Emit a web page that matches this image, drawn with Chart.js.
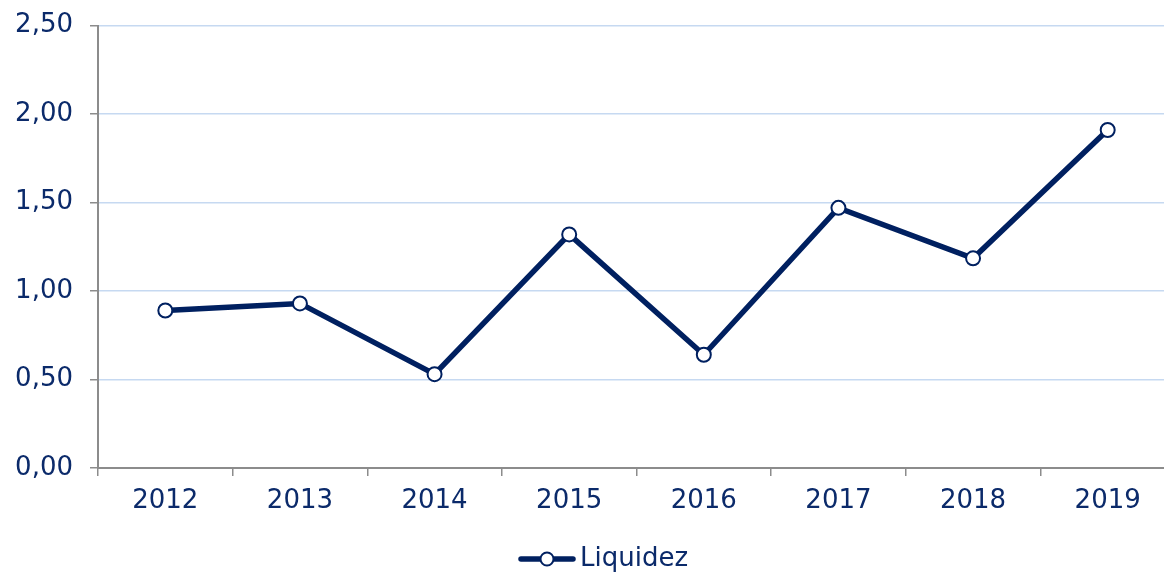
<!DOCTYPE html>
<html><head><meta charset="utf-8">
<script src="https://cdn.jsdelivr.net/npm/chart.js@4.4.1/dist/chart.umd.min.js"></script>
<style>
html,body{margin:0;padding:0;overflow:hidden;background:#fff;width:1164px;height:572px;position:relative;}
#wrap{position:absolute;left:0;top:-7px;width:1184px;height:589px;}
</style></head>
<body>
<div id="wrap"><canvas id="c" width="1184" height="589"></canvas></div>
<script>
const categories = ['2012','2013','2014','2015','2016','2017','2018','2019'];
const liquidez = [0.89, 0.93, 0.53, 1.32, 0.64, 1.47, 1.185, 1.91];
const seriesName = 'Liquidez';
const yTicks = [0, 0.5, 1, 1.5, 2, 2.5];

const NAVY = '#002060';
const TEXT = '#0b2a6a';
const GRID = '#c6d9f1';
const AXIS = '#8c8c8c';
const FONT = {family: '"DejaVu Sans", Verdana, sans-serif', size: 26};

// legend symbol: line with open circle (transparent margin on left shifts it right)
const sym = document.createElement('canvas');
sym.width = 90; sym.height = 18;
(function(){
  const g = sym.getContext('2d');
  const o = 32;
  g.strokeStyle = NAVY; g.lineWidth = 5.5; g.lineCap = 'round';
  g.beginPath(); g.moveTo(o + 3, 9); g.lineTo(o + 55, 9); g.stroke();
  g.beginPath(); g.arc(o + 29, 9, 6.5, 0, Math.PI*2);
  g.fillStyle = '#fff'; g.fill(); g.lineWidth = 2; g.stroke();
})();

new Chart(document.getElementById('c'), {
  type: 'line',
  data: {
    labels: categories,
    datasets: [{
      label: seriesName,
      data: liquidez,
      borderColor: NAVY,
      borderWidth: 5.5,
      pointRadius: 7,
      pointHoverRadius: 7,
      pointBackgroundColor: '#fff',
      pointBorderColor: NAVY,
      pointBorderWidth: 2,
      tension: 0,
      pointStyle: 'circle'
    }]
  },
  options: {
    responsive: false,
    animation: false,
    layout: {padding: {left: 0, right: 1, top: 18, bottom: 0}},
    plugins: {
      tooltip: {enabled: false},
      legend: {
        position: 'bottom',
        labels: {
          color: TEXT,
          font: FONT,
          usePointStyle: true,
          pointStyleWidth: 72,
          padding: 10,
          generateLabels: (chart) => [{
            text: seriesName, pointStyle: sym, fontColor: TEXT,
            fillStyle: NAVY, strokeStyle: NAVY, lineWidth: 0, datasetIndex: 0, hidden: false
          }]
        }
      }
    },
    scales: {
      x: {
        offset: true,
        grid: {offset: true, drawOnChartArea: false, color: AXIS, tickColor: AXIS, tickLength: 8, lineWidth: 1.5},
        border: {color: AXIS, width: 2},
        ticks: {color: TEXT, font: FONT, padding: 10, maxRotation: 0},
        afterFit: (s) => { s.height = 68; }
      },
      y: {
        min: 0, max: 2.5,
        afterBuildTicks: (s) => { s.ticks = yTicks.map(v => ({value: v})); },
        grid: {color: GRID, lineWidth: 1.5, tickColor: AXIS, tickLength: 8},
        border: {color: AXIS, width: 2},
        ticks: {color: TEXT, font: FONT, padding: 17,
          callback: (v) => Number(v).toFixed(2).replace('.', ',')},
        afterFit: (s) => { s.width = 98; }
      }
    }
  }
});
</script>
</body></html>
